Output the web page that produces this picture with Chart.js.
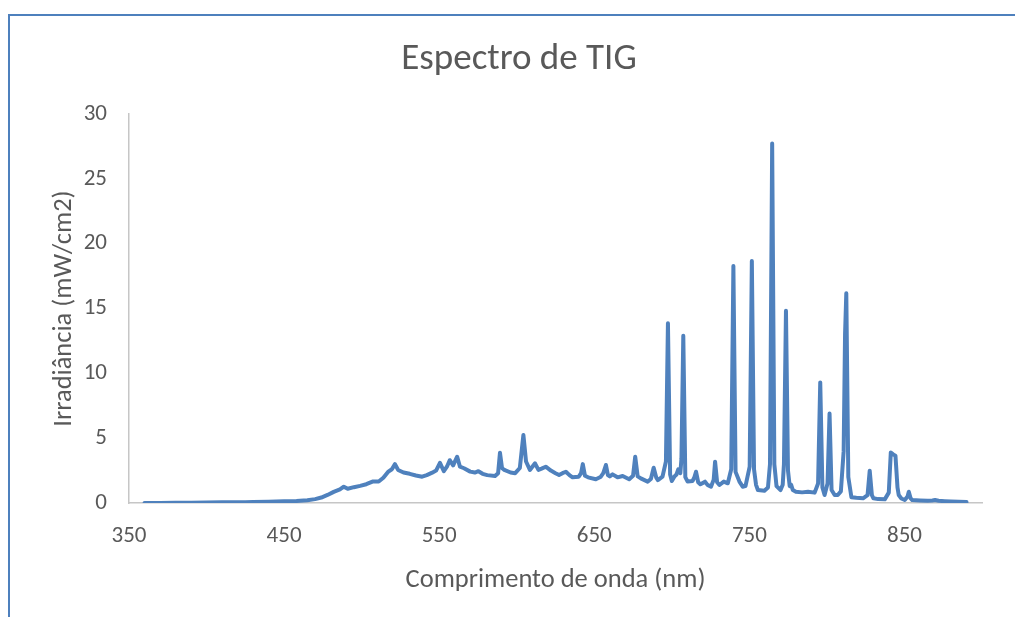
<!DOCTYPE html>
<html>
<head>
<meta charset="utf-8">
<script src="https://cdn.jsdelivr.net/npm/chart.js@4.4.1/dist/chart.umd.min.js"></script>
<style>
  html, body { margin: 0; padding: 0; background: #fff; overflow: hidden; width: 1015px; height: 617px; }
  #wrap { position: absolute; left: 0; top: 0; width: 1038px; height: 617px; }
  #frame { position: absolute; left: 8px; top: 14px; width: 1100px; height: 700px;
           border-left: 2px solid #4e80bd; border-top: 2px solid #4e80bd; pointer-events: none; }
</style>
</head>
<body>
<div id="wrap"><canvas id="c" width="1038" height="617"></canvas></div>
<div id="frame"></div>
<script>
// Wavelength (nm) and irradiance (mW/cm2) of the TIG arc spectrum
const wavelengths = [
  360, 370, 380, 390, 400, 410, 420, 425, 430, 440, 450, 458, 465, 470, 474, 478, 482, 486, 488.5, 491,
  495, 499, 503, 507, 511, 514, 517, 519.5, 521.5, 523.5, 527, 531, 535, 539, 542, 545.5, 548, 550.5, 553, 555,
  556.8, 559, 561.6, 563.4, 566, 570, 573, 575.3, 578, 581, 586, 588, 589.2, 590.5, 592, 596, 599, 602, 604.3, 606,
  608.5, 611.8, 614, 616, 618.7, 622, 625, 627.3, 629.5, 631.7, 634, 636, 640, 641.5, 642.6, 644, 646, 651, 654, 655.8,
  657.5, 658.8, 660, 661.8, 665, 668.3, 672.5, 675, 676.4, 678, 680, 684.4, 686.5, 688.3, 690, 691, 694, 696.2, 697.5, 698.9,
  700, 701.6, 703, 704.2, 705.5, 706.2, 707.4, 708.7, 710.2, 713.4, 714.6, 715.6, 717, 718.4, 720, 721.4, 723, 725.3, 727, 727.9,
  729.2, 730.7, 733.5, 736.1, 738.3, 739.7, 741.1, 743.6, 745.7, 747.5, 750.2, 751.6, 753, 754.3, 755.5, 759.7, 762, 763.3, 764.7, 766.1,
  767.5, 770.1, 771.5, 772.3, 773.6, 774.9, 776, 777, 778, 780, 784, 787.8, 792.1, 794.3, 795.7, 797.1, 798.5, 800.4, 801.7, 803,
  805, 807, 809, 810.8, 811.7, 812.5, 813.8, 815.8, 819, 823.3, 826.2, 827.6, 829, 830, 833, 837.3, 839.9, 841.2, 842.7, 844.2,
  845.5, 846.3, 848, 850.2, 852, 852.8, 854, 855, 860, 865, 868, 869.7, 872, 876, 880, 885, 890
];
const irradiance = [
  0.00, 0.00, 0.01, 0.02, 0.03, 0.05, 0.06, 0.05, 0.08, 0.10, 0.13, 0.16, 0.22, 0.30, 0.42, 0.62, 0.86, 1.05, 1.26, 1.10,
  1.22, 1.32, 1.45, 1.65, 1.66, 1.95, 2.40, 2.60, 3.00, 2.55, 2.35, 2.25, 2.12, 2.03, 2.15, 2.34, 2.50, 3.10, 2.45, 2.80,
  3.30, 2.90, 3.57, 2.80, 2.68, 2.42, 2.35, 2.45, 2.25, 2.15, 2.08, 2.30, 3.88, 2.70, 2.55, 2.35, 2.30, 2.70, 5.24, 3.20,
  2.55, 3.06, 2.55, 2.65, 2.80, 2.50, 2.30, 2.16, 2.30, 2.41, 2.15, 1.98, 2.03, 2.30, 3.00, 2.10, 1.98, 1.83, 2.00, 2.30,
  2.93, 2.15, 2.05, 2.21, 1.98, 2.08, 1.83, 2.10, 3.57, 2.05, 1.90, 1.65, 1.85, 2.72, 1.95, 1.77, 2.03, 3.20, 13.86, 2.20,
  1.70, 2.03, 2.20, 2.60, 2.30, 3.40, 12.90, 2.00, 1.65, 1.70, 2.00, 2.41, 1.60, 1.44, 1.55, 1.65, 1.40, 1.26, 1.80, 3.19,
  1.60, 1.39, 1.65, 1.52, 2.60, 18.27, 2.40, 1.65, 1.26, 1.30, 2.80, 18.66, 2.60, 1.40, 1.00, 0.95, 1.20, 3.00, 27.73, 3.00,
  1.30, 1.00, 1.40, 3.00, 14.83, 2.50, 1.30, 1.39, 1.00, 0.87, 0.82, 0.87, 0.80, 1.50, 9.30, 1.20, 0.62, 1.50, 6.90, 1.00,
  0.62, 0.62, 0.90, 4.00, 13.00, 16.17, 2.00, 0.44, 0.40, 0.36, 0.60, 2.49, 0.60, 0.36, 0.30, 0.28, 0.80, 3.90, 3.75, 3.65,
  1.20, 0.62, 0.35, 0.23, 0.50, 0.87, 0.35, 0.23, 0.20, 0.18, 0.20, 0.23, 0.17, 0.14, 0.12, 0.10, 0.07
];
const xTickValues = [350, 450, 550, 650, 750, 850];
const yTickValues = [0, 5, 10, 15, 20, 25, 30];

const FONT = 'Carlito, Lato, "Open Sans", sans-serif';
const TEXT = '#595959';
const AXIS = '#c6c6c6';

const points = wavelengths.map((w, i) => ({ x: w, y: irradiance[i] }));

// Centre the chart title on the whole canvas rather than on the padded layout width
const fullWidthTitle = {
  id: 'fullWidthTitle',
  afterLayout(chart) {
    if (chart.titleBlock) {
      chart.titleBlock.left = 0;
      chart.titleBlock.right = chart.width;
      chart.titleBlock.width = chart.width;
    }
  }
};

new Chart(document.getElementById('c').getContext('2d'), {
  type: 'line',
  data: {
    datasets: [{
      data: points,
      borderColor: '#4f81bd',
      borderWidth: 4,
      pointRadius: 0,
      tension: 0,
      fill: false,
      borderJoinStyle: 'round',
      borderCapStyle: 'round'
    }]
  },
  plugins: [fullWidthTitle],
  options: {
    responsive: false,
    animation: false,
    layout: { padding: { left: 0, right: 56, top: 0, bottom: 0 } },
    plugins: {
      legend: { display: false },
      tooltip: { enabled: false },
      title: {
        display: true,
        text: 'Espectro de TIG',
        color: TEXT,
        font: { family: FONT, size: 37, weight: 'normal' },
        padding: { top: 38, bottom: 31.6 }
      }
    },
    scales: {
      x: {
        type: 'linear',
        min: 350,
        max: 900,
        afterBuildTicks: s => { s.ticks = xTickValues.map(v => ({ value: v })); },
        afterFit: s => { s.height = 114; },
        grid: { display: false, drawTicks: false },
        border: { display: true, color: AXIS, width: 1.5 },
        ticks: { color: TEXT, font: { family: FONT, size: 23 }, padding: 19, autoSkip: false, maxRotation: 0 },
        title: {
          display: true,
          text: 'Comprimento de onda (nm)',
          color: TEXT,
          font: { family: FONT, size: 26.5 },
          padding: { top: 0, bottom: 21 }
        }
      },
      y: {
        min: 0,
        max: 30,
        afterBuildTicks: s => { s.ticks = yTickValues.map(v => ({ value: v })); },
        afterFit: s => { s.width = 129; },
        grid: { display: false, drawTicks: false },
        border: { display: true, color: AXIS, width: 1.5 },
        ticks: { color: TEXT, font: { family: FONT, size: 23 }, padding: 22 },
        title: {
          display: true,
          text: 'Irradiância (mW/cm2)',
          color: TEXT,
          font: { family: FONT, size: 26.5 },
          padding: { top: 48, bottom: 0 }
        }
      }
    }
  }
});
</script>
</body>
</html>
